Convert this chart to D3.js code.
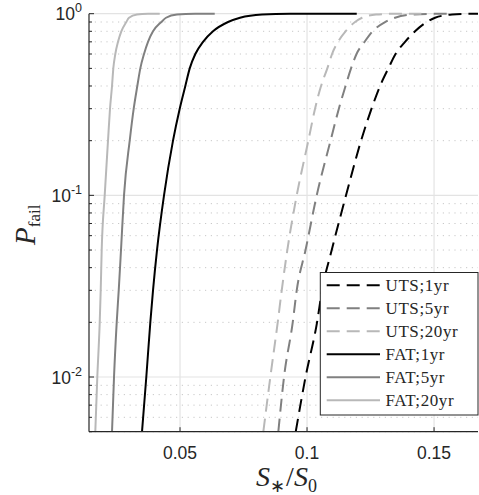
<!DOCTYPE html>
<html>
<head>
<meta charset="utf-8">
<script src="https://cdn.jsdelivr.net/npm/d3@7"></script>
<style>
  html, body { margin: 0; padding: 0; background: #fff; }
  svg { display: block; }
</style>
</head>
<body>
<div id="chart"></div>
<script>
// ---------------- data ----------------
const pLevels = [0.005, 0.01, 0.02, 0.03, 0.05, 0.1, 0.2, 0.3, 0.4, 0.5, 0.6, 0.7, 0.8, 0.9, 0.95, 0.99, 0.999, 1];

const utsX_1yr  = [0.09555, 0.09941, 0.10394, 0.10591, 0.10972, 0.11535, 0.12126, 0.12539, 0.12874, 0.13201, 0.13484, 0.13858, 0.14252, 0.14713, 0.15039, 0.15709, 0.16339, 0.1673];
const utsX_5yr  = [0.08870, 0.09094, 0.09437, 0.09594, 0.09941, 0.10382, 0.10925, 0.11252, 0.11516, 0.11732, 0.11949, 0.12264, 0.12579, 0.13071, 0.13465, 0.14134, 0.15039, 0.1570];
const utsX_20yr = [0.08280, 0.08555, 0.08846, 0.09004, 0.09224, 0.09594, 0.10051, 0.10315, 0.10551, 0.10799, 0.10984, 0.11220, 0.11516, 0.11890, 0.12165, 0.12717, 0.13465, 0.1450];
const fatX_1yr  = [0.03504, 0.03673, 0.03831, 0.03937, 0.04094, 0.04370, 0.04724, 0.04988, 0.05209, 0.05382, 0.05602, 0.05906, 0.06299, 0.06890, 0.07362, 0.08228, 0.09331, 0.11957];
const fatX_5yr  = [0.02323, 0.02402, 0.02508, 0.02587, 0.02677, 0.02795, 0.03020, 0.03177, 0.03319, 0.03437, 0.03583, 0.03740, 0.03937, 0.04264, 0.04449, 0.04882, 0.05590, 0.06366];
const fatX_20yr = [0.01665, 0.01744, 0.01839, 0.01878, 0.01917, 0.02035, 0.02165, 0.02244, 0.02323, 0.02374, 0.02453, 0.02559, 0.02689, 0.02886, 0.02992, 0.03307, 0.03740, 0.04201];

const seriesNames = ["UTS;1yr", "UTS;5yr", "UTS;20yr", "FAT;1yr", "FAT;5yr", "FAT;20yr"];
const seriesX = [utsX_1yr, utsX_5yr, utsX_20yr, fatX_1yr, fatX_5yr, fatX_20yr];
const seriesColor = ["#000000", "#808080", "#b8b8b8", "#000000", "#808080", "#b8b8b8"];
const seriesDashed = [true, true, true, false, false, false];

const xDomain = [0.01417, 0.1673];
const yDomain = [0.005, 1];
const xTicks = [0.05, 0.1, 0.15];
const xTickLabels = ["0.05", "0.1", "0.15"];
const yMajorTicks = [1, 0.1, 0.01];
const yMajorExp = ["0", "-1", "-2"];

// ---------------- layout ----------------
const W = 479, H = 495;
const L = 89, R = 478, T = 13.7, B = 431.7;
const axisColor = "#262626";

const svg = d3.select("#chart").append("svg").attr("width", W).attr("height", H);

const x = d3.scaleLinear().domain(xDomain).range([L, R]);
const y = d3.scaleLog().domain(yDomain).range([B, T]);

// minor y values
const yMinor = [];
for (const dec of [0.001, 0.01, 0.1]) {
  for (let k = 2; k <= 9; k++) {
    const v = +(k * dec).toPrecision(3);
    if (v >= yDomain[0] && v <= yDomain[1]) yMinor.push(v);
  }
}

const g = svg.append("g");

// minor grid (dotted)
g.append("g").selectAll("line").data(yMinor).join("line")
  .attr("x1", L).attr("x2", R)
  .attr("y1", d => y(d)).attr("y2", d => y(d))
  .attr("stroke", "#c8c8c8").attr("stroke-width", 1)
  .attr("stroke-dasharray", "1.2,4.6");

// major grid
g.append("g").selectAll("line").data(yMajorTicks).join("line")
  .attr("x1", L).attr("x2", R)
  .attr("y1", d => y(d)).attr("y2", d => y(d))
  .attr("stroke", "#e3e3e3").attr("stroke-width", 1.2);
g.append("g").selectAll("line").data(xTicks).join("line")
  .attr("x1", d => x(d)).attr("x2", d => x(d))
  .attr("y1", T).attr("y2", B)
  .attr("stroke", "#e3e3e3").attr("stroke-width", 1.2);

// clip for curves
svg.append("defs").append("clipPath").attr("id", "plotclip")
  .append("rect").attr("x", L).attr("y", T - 2).attr("width", R - L + 1).attr("height", B - T + 2);

const line = d3.line()
  .x(d => x(d[0])).y(d => y(d[1]))
  .curve(d3.curveMonotoneX);

const curves = svg.append("g").attr("clip-path", "url(#plotclip)");
seriesX.forEach((xs, i) => {
  const pts = xs.map((v, j) => [v, pLevels[j]]);
  curves.append("path")
    .attr("d", line(pts))
    .attr("fill", "none")
    .attr("stroke", seriesColor[i])
    .attr("stroke-width", 2)
    .attr("stroke-dasharray", seriesDashed[i] ? "13,7" : null);
});

// axes lines
const ax = svg.append("g");
ax.append("line").attr("x1", L).attr("x2", L).attr("y1", T).attr("y2", B)
  .attr("stroke", axisColor).attr("stroke-width", 1.2);
ax.append("line").attr("x1", L).attr("x2", R).attr("y1", B).attr("y2", B)
  .attr("stroke", axisColor).attr("stroke-width", 1.2);

// y ticks
ax.selectAll(".ymaj").data(yMajorTicks).join("line")
  .attr("x1", L).attr("x2", L + 5)
  .attr("y1", d => y(d)).attr("y2", d => y(d))
  .attr("stroke", axisColor).attr("stroke-width", 1);
ax.selectAll(".ymin").data(yMinor).join("line")
  .attr("x1", L).attr("x2", L + 3)
  .attr("y1", d => y(d)).attr("y2", d => y(d))
  .attr("stroke", axisColor).attr("stroke-width", 1);
// x ticks
ax.selectAll(".xt").data(xTicks).join("line")
  .attr("x1", d => x(d)).attr("x2", d => x(d))
  .attr("y1", B).attr("y2", B - 4.5)
  .attr("stroke", axisColor).attr("stroke-width", 1);

// x tick labels
ax.selectAll(".xl").data(xTicks).join("text")
  .attr("x", d => x(d)).attr("y", B + 27)
  .attr("text-anchor", "middle")
  .attr("font-family", "'Liberation Sans', Arial, sans-serif")
  .attr("font-size", 17.5).attr("fill", axisColor)
  .text((d, i) => xTickLabels[i]);

// y tick labels 10^n
yMajorTicks.forEach((v, i) => {
  const t = ax.append("text")
    .attr("x", L - 7).attr("y", y(v) + 6.5)
    .attr("text-anchor", "end")
    .attr("font-family", "'Liberation Sans', Arial, sans-serif")
    .attr("font-size", 17.5).attr("fill", axisColor);
  t.append("tspan").text("10");
  t.append("tspan").attr("font-size", 12.5).attr("dy", -8).text(yMajorExp[i]);
});

// axis titles
const serif = "'Liberation Serif', 'Times New Roman', serif";
const xl = svg.append("text")
  .attr("x", (L + R) / 2 + 3).attr("y", 486)
  .attr("text-anchor", "middle")
  .attr("font-family", serif).attr("font-size", 28).attr("fill", axisColor);
xl.append("tspan").attr("font-style", "italic").text("S");
xl.append("tspan").attr("font-size", 18).attr("dy", 6).text("∗");
xl.append("tspan").attr("dy", -6).attr("dx", 1).text("/");
xl.append("tspan").attr("font-style", "italic").text("S");
xl.append("tspan").attr("font-size", 18).attr("dy", 6).text("0");

const yl = svg.append("text")
  .attr("transform", `translate(35, ${(T + B) / 2 + 2}) rotate(-90)`)
  .attr("text-anchor", "middle")
  .attr("font-family", serif).attr("font-size", 29).attr("fill", axisColor);
yl.append("tspan").attr("font-style", "italic").text("P");
yl.append("tspan").attr("font-size", 17).attr("dy", 5).text("fail");

// legend
const lg = svg.append("g");
const lx0 = 320.3, ly0 = 272.5, lx1 = 478, ly1 = 415;
lg.append("rect").attr("x", lx0).attr("y", ly0).attr("width", lx1 - lx0).attr("height", ly1 - ly0)
  .attr("fill", "#fff").attr("stroke", axisColor).attr("stroke-width", 1);
const rowY0 = 285.3, rowStep = 23.0;
seriesNames.forEach((name, i) => {
  const ry = rowY0 + i * rowStep;
  lg.append("line").attr("x1", 326.7).attr("x2", 380).attr("y1", ry).attr("y2", ry)
    .attr("stroke", seriesColor[i]).attr("stroke-width", 2)
    .attr("stroke-dasharray", seriesDashed[i] ? "13,7" : null);
  lg.append("text").attr("x", 385.5).attr("y", ry + 5.5)
    .attr("font-family", serif).attr("font-size", 17)
    .attr("letter-spacing", 0.6)
    .attr("fill", axisColor).text(name);
});
</script>
</body>
</html>
